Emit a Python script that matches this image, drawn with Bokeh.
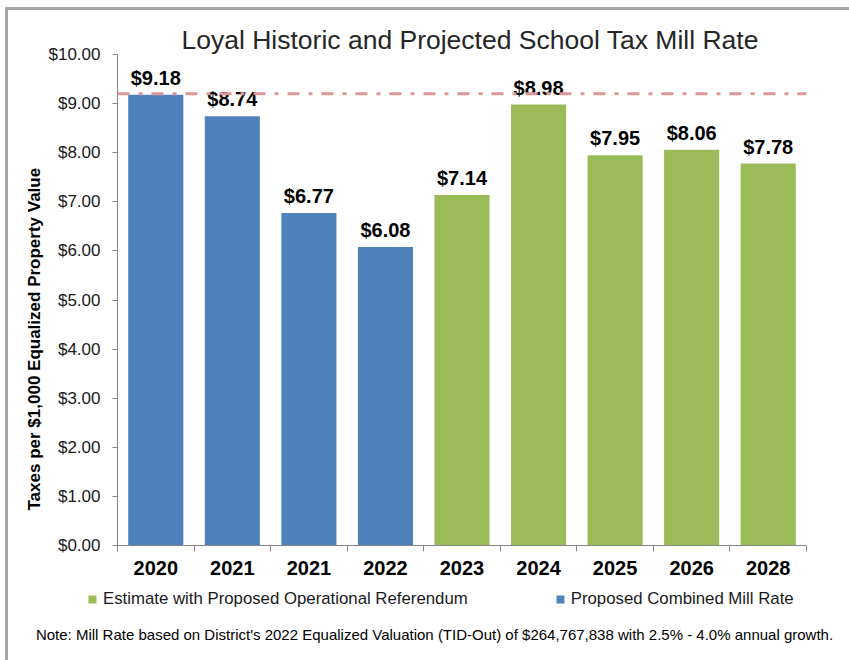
from bokeh.plotting import figure
from bokeh.layouts import column
from bokeh.models import (ColumnDataSource, FixedTicker, Span, LabelSet, Label, Title, Range1d,
                          Legend, LegendItem, NumeralTickFormatter, InlineStyleSheet)
from bokeh.core.properties import value
from bokeh.embed import file_html
from bokeh.resources import INLINE

# ---------------- data ----------------
title_text = "Loyal Historic and Projected School Tax Mill Rate"
y_axis_title = "Taxes per $1,000 Equalized Property Value"
note_text = ("Note: Mill Rate based on District's 2022 Equalized Valuation (TID-Out) of "
             "$264,767,838 with 2.5% - 4.0% annual growth.")
years = ["2020", "2021", "2021", "2022", "2023", "2024", "2025", "2026", "2028"]
mill_rates = [9.18, 8.74, 6.77, 6.08, 7.14, 8.98, 7.95, 8.06, 7.78]
series = ["combined", "combined", "combined", "combined",
          "referendum", "referendum", "referendum", "referendum", "referendum"]
series_labels = {"referendum": "Estimate with Proposed Operational Referendum",
                 "combined": "Proposed Combined Mill Rate"}
series_colors = {"referendum": "#9BBB59", "combined": "#4F81BD"}
reference_rate = 9.2
y_ticks = [0, 1, 2, 3, 4, 5, 6, 7, 8, 9, 10]

FONT = "Liberation Sans"
BORDER = "#A6A6A6"

positions = list(range(len(years)))


def source_for(key):
    idx = [i for i, s in enumerate(series) if s == key]
    return ColumnDataSource(dict(
        x=[positions[i] for i in idx],
        top=[mill_rates[i] for i in idx],
        label=["$%.2f" % mill_rates[i] for i in idx],
    ))


sources = {key: source_for(key) for key in ["combined", "referendum"]}

# ---------------- main chart ----------------
p = figure(width=849, height=585, x_range=(-0.5, len(years) - 0.5), y_range=(0, 10),
           output_backend="svg", toolbar_location=None, frame_align=False,
           min_border_left=117, min_border_right=43, min_border_top=54, min_border_bottom=40)
p.grid.visible = False
p.outline_line_color = None
p.background_fill_color = "white"
p.border_fill_color = "white"
p.stylesheets = [InlineStyleSheet(css=(
    ":host::after { content: ''; position: absolute; left: 5px; top: 7px; right: 0px; bottom: 0px;"
    " border-left: 3px solid %s; border-top: 3px solid %s; pointer-events: none; }" % (BORDER, BORDER)))]

for key in ["combined", "referendum"]:
    src = sources[key]
    p.vbar(x="x", top="top", width=0.72, bottom=0, source=src,
           fill_color=series_colors[key], line_color=None)
    p.add_layout(LabelSet(x="x", y="top", text="label", source=src, y_offset=10,
                          text_align="center", text_baseline="alphabetic",
                          text_font=value(FONT), text_font_style="bold",
                          text_font_size="20px", text_color="black"))

p.add_layout(Span(location=reference_rate, dimension="width", line_color="#DC9896",
                  line_width=3, line_dash="12 9 4 9"))

# title
p.title.text = title_text
p.title.align = "left"
p.title.offset = 64
p.title.standoff = 0
p.title.text_font = FONT
p.title.text_font_style = "normal"
p.title.text_font_size = "26.5px"
p.title.text_color = "#262626"

# y axis
ya = p.yaxis[0]
ya.ticker = FixedTicker(ticks=y_ticks)
ya.formatter = NumeralTickFormatter(format="$0.00")
ya.major_tick_out = 5
ya.major_tick_in = 0
ya.minor_tick_out = 0
ya.minor_tick_in = 0
ya.axis_line_color = "#868686"
ya.major_tick_line_color = "#868686"
ya.major_label_text_font = FONT
ya.major_label_text_font_size = "17px"
ya.major_label_text_color = "#1a1a1a"
ya.major_label_standoff = 12

p.add_layout(Title(text=y_axis_title, align="left", offset=35, standoff=4,
                   text_font=FONT, text_font_style="bold", text_font_size="17px",
                   text_color="black"), "left")

# x axis
xa = p.xaxis[0]
xa.ticker = FixedTicker(ticks=positions, minor_ticks=[i - 0.5 for i in range(len(years) + 1)])
xa.major_label_overrides = {i: y for i, y in zip(positions, years)}
xa.major_tick_out = 0
xa.major_tick_in = 0
xa.minor_tick_out = 6
xa.minor_tick_in = 0
xa.minor_tick_line_color = "#868686"
xa.axis_line_color = "#868686"
xa.major_label_text_font = FONT
xa.major_label_text_font_style = "bold"
xa.major_label_text_font_size = "20px"
xa.major_label_text_color = "black"
xa.major_label_standoff = 9

# ---------------- legend + note strip ----------------
q = figure(width=849, height=75, x_range=Range1d(0, 849), y_range=Range1d(0, 75),
           output_backend="svg", toolbar_location=None, frame_align=False,
           x_axis_location=None, y_axis_location=None,
           min_border_left=0, min_border_right=0, min_border_top=0, min_border_bottom=0)
q.grid.visible = False
q.outline_line_color = None
q.background_fill_color = "white"
q.border_fill_color = "white"
q.stylesheets = [InlineStyleSheet(css=(
    ":host::after { content: ''; position: absolute; left: 5px; top: 0px; right: 0px; bottom: 0px;"
    " border-left: 3px solid %s; pointer-events: none; }" % BORDER))]

# zero-width bars: they only carry the legend swatches for this strip
legend_renderers = {}
for key in ["referendum", "combined"]:
    legend_renderers[key] = q.vbar(x="x", top="top", width=0, bottom=0, source=sources[key],
                                   fill_color=series_colors[key], line_color=None)

legend = Legend(items=[LegendItem(label=series_labels[k], renderers=[legend_renderers[k]])
                       for k in ["referendum", "combined"]],
                orientation="horizontal", location=(87, 51), padding=0, margin=0, spacing=87,
                glyph_width=10, glyph_height=10, label_height=16, label_standoff=6,
                label_text_font=FONT, label_text_font_size="16.8px", label_text_color="#1a1a1a",
                border_line_alpha=0, background_fill_alpha=0)
q.add_layout(legend)

q.add_layout(Label(x=434, y=26, text=note_text, text_align="center", text_baseline="middle",
                   text_font=FONT, text_font_size="15px", text_color="black"))

layout = column(p, q, spacing=0)

open("out.html", "w").write(file_html(layout, INLINE))
